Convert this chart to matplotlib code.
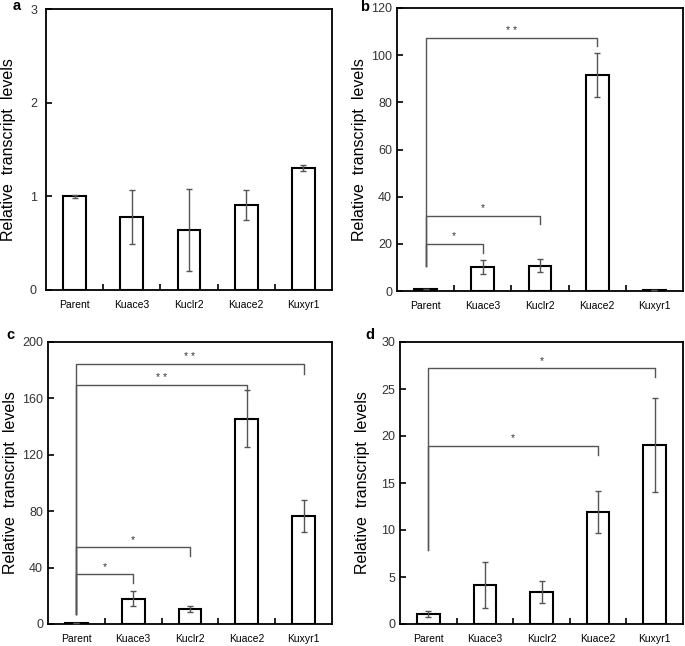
import matplotlib
matplotlib.use("Agg")
import matplotlib.pyplot as plt
import numpy as np

plt.rcParams['font.family'] = ['Liberation Sans', 'DejaVu Sans']

categories = ["Parent", "Kuace3", "Kuclr2", "Kuace2", "Kuxyr1"]

a_vals = [1.00, 0.78, 0.64, 0.91, 1.30]
a_errs = [0.015, 0.29, 0.44, 0.16, 0.03]
a_ticks = [0, 1, 2, 3]

b_vals = [1.0, 10.0, 10.8, 91.6, 0.6]
b_errs = [0.0, 3.0, 2.9, 9.4, 0.0]
b_ticks = [0, 20, 40, 60, 80, 100, 120]

c_vals = [1.0, 17.9, 10.6, 145.7, 76.5]
c_errs = [0.0, 5.4, 1.9, 20.1, 11.2]
c_ticks = [0, 40, 80, 120, 160, 200]

d_vals = [1.06, 4.17, 3.36, 11.89, 19.03]
d_errs = [0.33, 2.45, 1.17, 2.25, 4.99]
d_ticks = [0, 5, 10, 15, 20, 25, 30]

# brackets: (target index, bracket level, drop end, label)
b_brackets = [(3, 107.2, 103.7, "* *"), (2, 32.0, 28.4, "*"), (1, 20.1, 16.0, "*")]
b_start = 10.4
c_brackets = [(4, 184.2, 177.6, "* *"), (3, 169.3, 165.0, "* *"), (2, 54.3, 48.2, "*"), (1, 35.2, 28.8, "*")]
c_start = 7.0
d_brackets = [(4, 27.2, 26.3, "*"), (3, 18.96, 18.0, "*")]
d_start = 7.9

W, H = 685, 646
fig = plt.figure(figsize=(W / 100, H / 100), dpi=100)


def box(l, r, t, b):
    return [l / W, (H - b) / H, (r - l) / W, (b - t) / H]


def panel(rect, letter, letter_dx, letter_dy, ypad, vals, errs, ticks, brackets=None, start=None):
    ax = fig.add_axes(rect)
    wpx = rect[2] * W
    hpx = rect[3] * H
    x = np.arange(len(categories))
    ax.bar(x, vals, width=0.4, color="white", edgecolor="black", linewidth=1.5, zorder=2)
    ax.errorbar(x, vals, yerr=errs, fmt="none", ecolor="#555555", elinewidth=1.0,
                capsize=2.5, capthick=1.0, zorder=3)
    ax.set_xlim(-0.5, len(categories) - 0.5)
    ax.set_ylim(ticks[0], ticks[-1])
    ax.set_yticks(ticks)
    ax.set_yticklabels([str(t) for t in ticks], fontsize=9, color="#333333")
    ax.set_xticks(x)
    ax.set_xticklabels(categories, fontsize=7.5)
    ax.set_xticks(np.arange(0.5, len(categories) - 0.5, 1.0), minor=True)
    ax.tick_params(axis="x", which="major", length=0, pad=7)
    ax.tick_params(axis="x", which="minor", direction="in", length=4, width=1.2)
    ax.tick_params(axis="y", direction="in", length=4, width=1.2, pad=ypad)
    for s in ax.spines.values():
        s.set_linewidth(1.3)
    ax.set_ylabel("Relative  transcript  levels", fontsize=11.5)
    ax.yaxis.set_label_coords(-30 / wpx, 0.5)
    ax.text(-letter_dx / wpx, 1 + letter_dy / hpx, letter, transform=ax.transAxes, fontsize=10.5,
            fontweight="bold", ha="center", va="center")
    if brackets:
        for idx, level, drop, lab in brackets:
            ax.plot([0, 0, idx, idx], [start, level, level, drop], color="#555555", lw=1.0, zorder=1)
            span = ticks[-1] - ticks[0]
            ax.text(idx / 2, level + span * 0.008, lab, ha="center", va="bottom", fontsize=7.5,
                    color="#333333")
    return ax


panel(box(46, 332, 9, 290), "a", 29, 3, 6.5, a_vals, a_errs, a_ticks)
panel(box(397, 683, 8, 291), "b", 32, 1, 3.5, b_vals, b_errs, b_ticks, b_brackets, b_start)
panel(box(48, 332, 342, 624), "c", 38, 7, 3.5, c_vals, c_errs, c_ticks, c_brackets, c_start)
panel(box(400, 683, 342, 624), "d", 30, 7, 3.5, d_vals, d_errs, d_ticks, d_brackets, d_start)

fig.savefig("out.png", dpi=100)
